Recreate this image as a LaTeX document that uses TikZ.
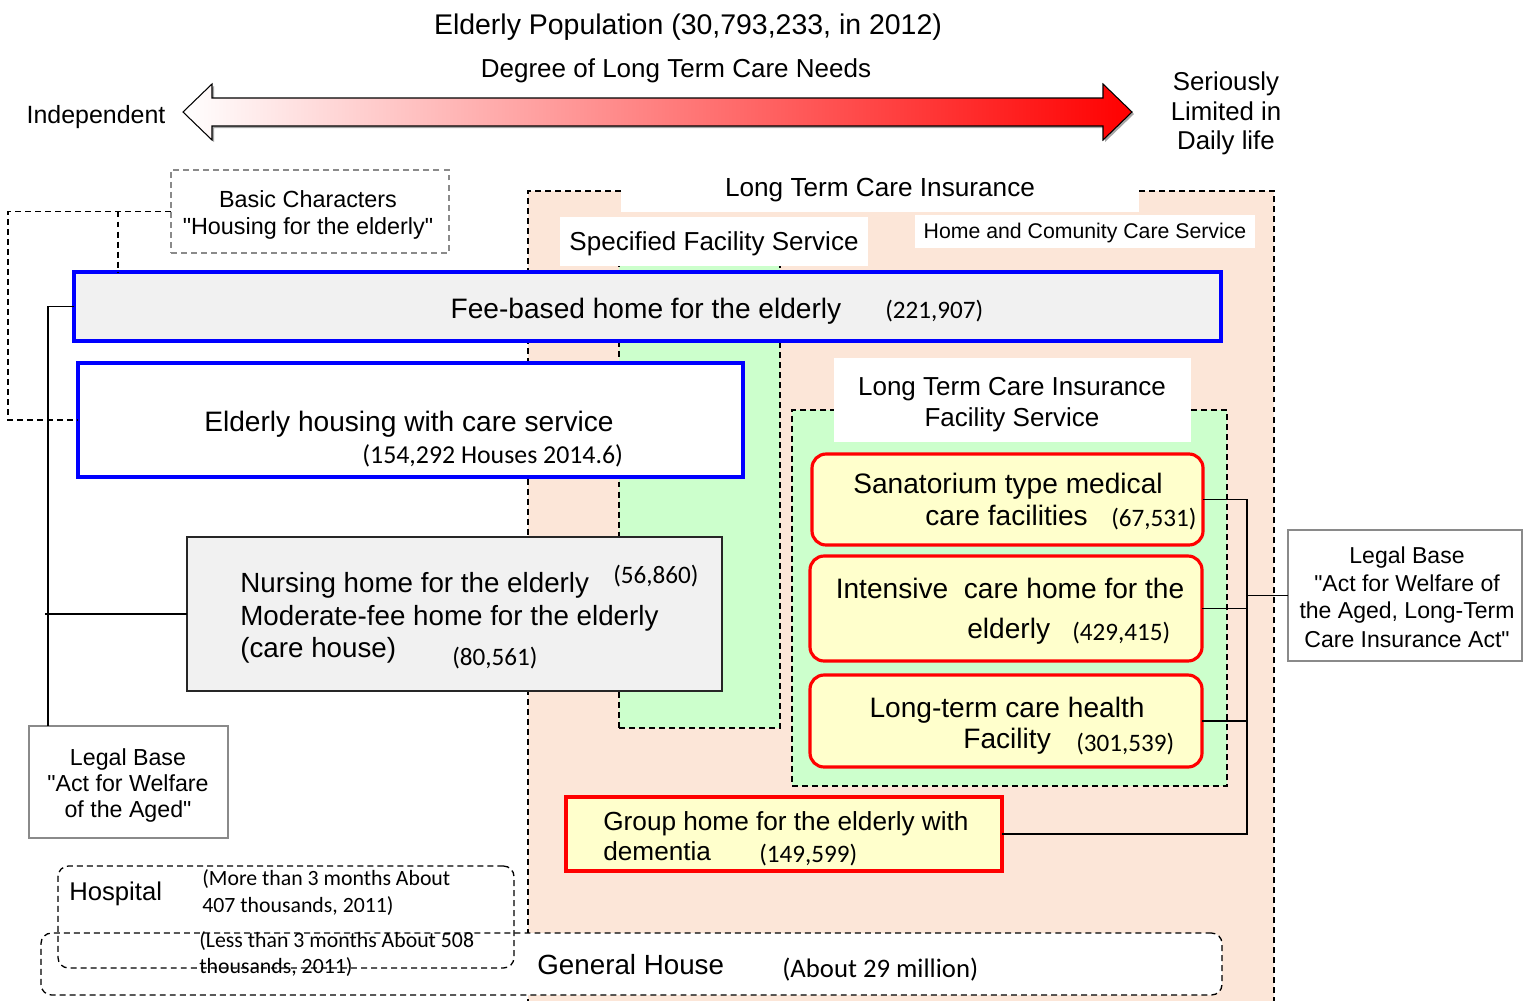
\documentclass[tikz,border=0pt]{standalone}
\usepackage{fontspec}
\setmainfont{Liberation Sans}[Ligatures=TeXOff]
\newfontfamily\numfont{Carlito}[Ligatures=TeXOff]
\usetikzlibrary{fit}
\definecolor{peach}{HTML}{FCE6D8}
\definecolor{lgreen}{HTML}{CCFFCC}
\definecolor{lyellow}{HTML}{FFFFCC}
\definecolor{lgray}{HTML}{F1F1F1}
\definecolor{bordgray}{HTML}{8A8A8A}
\newcommand\myfs[1]{\fontsize{#1}{#1}\selectfont}
\begin{document}
\begin{tikzpicture}[x=0.02cm,y=-0.02cm,
  rect/.style={inner sep=0pt, outer sep=0pt},
  dsh/.style={dash pattern=on 3.4pt off 2.3pt, line width=0.75pt},
  conn/.style={line width=0.8pt, black},
  txt/.style={inner sep=0pt, anchor=base},
  ltxt/.style={inner sep=0pt, anchor=base west},
  bluebox/.style={rect, draw=blue, line width=1.8pt},
  redbox/.style={rect, draw=red, line width=1.8pt, fill=lyellow},
  legalbox/.style={rect, draw=bordgray, line width=0.9pt, fill=white},
  num/.style={inner sep=0pt, anchor=base west, font=\numfont\myfs{14.3}}]
\useasboundingbox (0,0) rectangle (1523,1001);

% ---------- top arrow ----------
\fill[black!35] (185,114) -- (214,86) -- (214,100) -- (1105,100) -- (1105,86) -- (1134,114) -- (1105,142) -- (1105,128) -- (214,128) -- (214,142) -- cycle;
\shade[left color=white, middle color=red!30, right color=red, draw=black, line width=0.6pt]
  (183,112) -- (212,84) -- (212,98) -- (1103,98) -- (1103,84) -- (1132,112) -- (1103,140) -- (1103,126) -- (212,126) -- (212,140) -- cycle;
\node[txt, font=\myfs{16.2}] (title) at (688,34) {Elderly Population (30,793,233, in 2012)};
\node[txt, font=\myfs{14.8}] (degree) at (676,77) {Degree of Long Term Care Needs};
\node[txt, font=\myfs{14.2}] (indep) at (96,123) {Independent};
\node[txt, font=\myfs{14.7}] (ser1) at (1226,90) {Seriously};
\node[txt, font=\myfs{14.7}] (ser2) at (1226,120) {Limited in};
\node[txt, font=\myfs{14.7}] (ser3) at (1226,149) {Daily life};

% ---------- Long Term Care Insurance region ----------
\node[rect, fill=peach, fit={(528,191) (1274,1001)}] (ltci) {};
\node[rect, fill=white, fit={(621,185) (1139,212)}] (ltcilab) {};
\draw[dsh] (621,191) -- (ltci.north west) -- (ltci.south west);
\draw[dsh] (1139,191) -- (ltci.north east) -- (ltci.south east);
\node[txt, font=\myfs{14.9}] (ltcit) at (880,196) {Long Term Care Insurance};

% specified facility service
\node[rect, fill=lgreen, draw=black, dsh, fit={(619,250) (780,728)}] (spec) {};
\node[rect, fill=white, fit={(560,217) (868,266)}] (speclab) {};
\node[txt, font=\myfs{14.8}] (spect) at (714,250) {Specified Facility Service};

% home and community care
\node[rect, fill=white, fit={(915,215) (1255,248)}] (homelab) {};
\node[txt, font=\myfs{12.1}] (homet) at (1085,238) {Home and Comunity Care Service};

% LTCI facility service
\node[rect, fill=lgreen, draw=black, dsh, fit={(792,410) (1227,786)}] (fac) {};
\node[rect, fill=white, fit={(834,358) (1191,442)}] (faclab) {};
\node[txt, font=\myfs{14.8}] (fact1) at (1012,395) {Long Term Care Insurance};
\node[txt, font=\myfs{14.8}] (fact2) at (1012,426) {Facility Service};

% red boxes
\node[redbox, rounded corners=8pt, fit={(812,454) (1203,545)}] (san) {};
\node[txt, font=\myfs{16}] (san1) at (1008,493) {Sanatorium type medical};
\node[ltxt, font=\myfs{16}] (san2) at (925,525) {care facilities};
\node[num] (sann) at (1111,526) {(67,531)};

\node[redbox, rounded corners=8pt, fit={(810,556) (1202,661)}] (int) {};
\node[txt, font=\myfs{16}] (int1) at (1010,598) {Intensive\ \ care home for the};
\node[ltxt, font=\myfs{16}] (int2) at (967,638) {elderly};
\node[num] (intn) at (1072,640) {(429,415)};

\node[redbox, rounded corners=8pt, fit={(810,675) (1202,767)}] (lth) {};
\node[txt, font=\myfs{16}] (lth1) at (1007,717) {Long-term care health};
\node[ltxt, font=\myfs{16}] (lth2) at (963,748) {Facility};
\node[num] (lthn) at (1076,751) {(301,539)};

\node[redbox, fit={(566,797) (1002,871)}] (group) {};
\node[ltxt, font=\myfs{14.9}] (group1) at (603,830) {Group home for the elderly with};
\node[ltxt, font=\myfs{14.9}] (group2) at (603,860) {dementia};
\node[num] (groupn) at (759,862) {(149,599)};

% right legal base and connectors
\node[legalbox, fit={(1288,530) (1522,661)}] (legalR) {};
\node[txt, font=\myfs{13.1}] (lr1) at (1407,563) {Legal Base};
\node[txt, font=\myfs{13.1}] (lr2) at (1407,591) {"Act for Welfare of};
\node[txt, font=\myfs{13.1}] (lr3) at (1407,618) {the Aged, Long-Term};
\node[txt, font=\myfs{13.1}] (lr4) at (1407,647) {Care Insurance Act"};
\coordinate (rx) at (1247,0);
\draw[conn] (san.east) -- (san.east -| rx) -- (group.east -| rx) -- (group.east);
\draw[conn] (int.east) -- (int.east -| rx);
\draw[conn] (lth.east) -- (lth.east -| rx);
\draw[conn] (legalR.west) -- (legalR.west -| rx);

% ---------- housing boxes ----------
\node[bluebox, fill=lgray, fit={(74,272) (1221,341)}] (fee) {};
\node[txt, font=\myfs{16}] (feet) at (646,318) {Fee-based home for the elderly};
\node[num] (feen) at (885,318) {(221,907)};

\node[bluebox, fill=white, fit={(78,363) (743,477)}] (eld) {};
\node[txt, font=\myfs{16}] (eldt) at (409,431) {Elderly housing with care service};
\node[num, font=\numfont\myfs{14.7}] (eldn) at (362,463) {(154,292 Houses 2014.6)};

\node[rect, draw=black!85, line width=1.1pt, fill=lgray, fit={(187,537) (722,691)}] (nurs) {};
\node[ltxt, font=\myfs{15.8}] (nurs1) at (240,592) {Nursing home for the elderly};
\node[num] (nursn1) at (613,583) {(56,860)};
\node[ltxt, font=\myfs{15.8}] (nurs2) at (240,625) {Moderate-fee home for the elderly};
\node[ltxt, font=\myfs{15.8}] (nurs3) at (240,657) {(care house)};
\node[num] (nursn2) at (452,665) {(80,561)};

% left legal base and connectors
\node[legalbox, fit={(29,726) (228,838)}] (legalL) {};
\node[txt, font=\myfs{13.2}] (ll1) at (128,765) {Legal Base};
\node[txt, font=\myfs{13.2}] (ll2) at (128,791) {"Act for Welfare};
\node[txt, font=\myfs{13.2}] (ll3) at (128,817) {of the Aged"};
\coordinate (lx) at (48,0);
\draw[conn] (fee.west) -- (fee.west -| lx) -- (legalL.north -| lx);
\draw[conn] (nurs.west) -- (45,614);

% basic characters
\node[rect, draw=bordgray, dsh, fill=white, fit={(171,170) (449,253)}] (basic) {};
\node[txt, font=\myfs{13.3}] (basic1) at (308,207) {Basic Characters};
\node[txt, font=\myfs{13.3}] (basic2) at (308,234) {"Housing for the elderly"};
\coordinate (bj) at (118,211.5);
\draw[dsh] (basic.west) -| (8,420) -- (eld.west);
\draw[dsh] (bj) -- (bj |- fee.north);

% ---------- hospital / general house ----------
\node[rect, draw=black, dsh, fill=white, rounded corners=6pt, fit={(41,933) (1222,995)}] (gen) {};
\node[rect, draw=black, dsh, rounded corners=6pt, fit={(58,866) (514,968)}] (hosp) {};
\node[ltxt, font=\myfs{14.6}] (hospt) at (69,900) {Hospital};
\node[ltxt, font=\numfont\myfs{12.4}] (hosp1) at (202,885) {(More than 3 months About};
\node[ltxt, font=\numfont\myfs{12.4}] (hosp2) at (202,912) {407 thousands, 2011)};
\node[ltxt, font=\numfont\myfs{12.4}] (hosp3) at (199,947) {(Less than 3 months About 508};
\node[ltxt, font=\numfont\myfs{12.4}] (hosp4) at (199,973) {thousands, 2011)};
\node[ltxt, font=\myfs{15.8}] (gent) at (537,974) {General House};
\node[ltxt, font=\numfont\myfs{15.2}] (genn) at (782,977) {(About 29 million)};
\end{tikzpicture}
\end{document}
